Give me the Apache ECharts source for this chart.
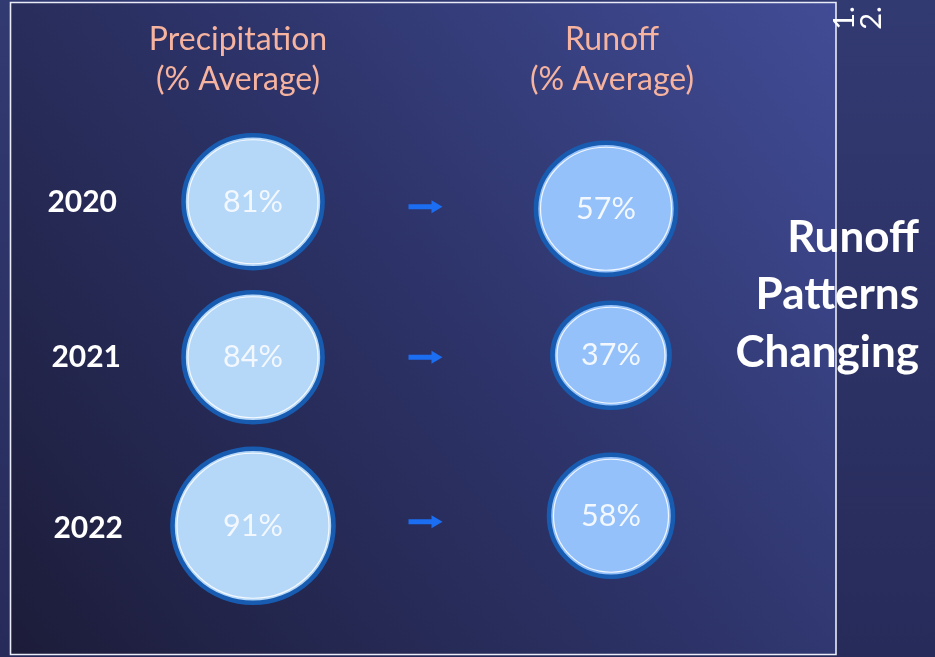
<!DOCTYPE html>
<html>
<head>
<meta charset="utf-8">
<script src="https://cdn.jsdelivr.net/npm/echarts@6/dist/echarts.min.js"></script>
<style>
  html, body { margin: 0; padding: 0; width: 935px; height: 657px; overflow: hidden; }
  #chart { width: 935px; height: 657px; }
</style>
</head>
<body>
<div id="chart"></div>
<script>
// ---- data ----
const years = ['2020', '2021', '2022'];
const groups = ['Precipitation', 'Runoff'];
const precipitation = [81, 84, 91];   // % of average
const runoff = [57, 37, 58];          // % of average
const headerLines = ['Precipitation\n(% Average)', 'Runoff\n(% Average)'];
const sideTitle = 'Runoff\nPatterns\nChanging';

// ---- layout / style ----
const FONT = 'Lato, "Open Sans", "Noto Sans", sans-serif';
const precipSize = [[139, 133], [139, 130], [161, 154]];
const runoffSize = [[140, 132], [117, 105], [124, 122]];
const precipOffset = [[0, -1], [0, -3], [0, 8]];
const runoffOffset = [[-4, 6], [1, -5], [1, -2]];
const arrowShift = [[-6, 4], [-6, -3], [-6, 4]];
// per-year nudges of the row labels: [top, right, bottom, left] padding
const yearPad = [[0, 6, 0, 0], [0, 2, 6, 0], [21, 0, 0, 0]];

function bubbleData(values, sizes, offsets, col, inset) {
  return values.map((v, i) => ({
    value: [col, i, v],
    symbolSize: [sizes[i][0] - inset, sizes[i][1] - inset],
    symbolOffset: offsets[i]
  }));
}

function bubbleSeries(values, sizes, offsets, col, fill) {
  return [
    {
      type: 'scatter',
      symbol: 'circle',
      z: 3,
      data: bubbleData(values, sizes, offsets, col, 0),
      itemStyle: { color: fill, borderColor: '#185cb2', borderWidth: 4.5, opacity: 1 },
      label: {
        show: true,
        position: 'inside',
        formatter: p => p.value[2] + '%',
        color: '#f3f8ff',
        fontSize: 30.5,
        fontFamily: FONT
      },
      emphasis: { disabled: true },
      silent: true
    },
    {
      type: 'scatter',
      symbol: 'circle',
      z: 4,
      data: bubbleData(values, sizes, offsets, col, 9),
      itemStyle: { color: 'rgba(0,0,0,0)', borderColor: 'rgba(255,255,255,0.85)', borderWidth: 1.2, opacity: 1 },
      label: { show: false },
      emphasis: { disabled: true },
      silent: true
    }
  ];
}

const yearRich = {};
years.forEach((y, i) => {
  yearRich['y' + i] = {
    color: '#ffffff',
    fontWeight: 'bold',
    fontSize: 30,
    fontFamily: FONT,
    padding: yearPad[i]
  };
});

const chart = echarts.init(document.getElementById('chart'), null, { renderer: 'canvas' });

const option = {
  animation: false,
  backgroundColor: {
    type: 'linear', x: 0, y: 0, x2: 0, y2: 1,
    colorStops: [{ offset: 0, color: '#323a72' }, { offset: 1, color: '#272b5a' }]
  },
  grid: { left: 74.5, width: 714, top: 124, height: 472.5 },
  xAxis: {
    type: 'category',
    position: 'top',
    data: [
      { value: groups[0], textStyle: { padding: [0, 30, 0, 0] } },
      { value: groups[1], textStyle: { padding: [0, 0, 0, 4] } }
    ],
    axisLine: { show: false },
    axisTick: { show: false },
    splitLine: { show: false },
    axisLabel: {
      formatter: (v, i) => headerLines[i],
      color: '#f6b39f',
      fontSize: 32,
      lineHeight: 40,
      fontFamily: FONT,
      margin: 24
    }
  },
  yAxis: {
    type: 'category',
    inverse: true,
    data: years,
    axisLine: { show: false },
    axisTick: { show: false },
    splitLine: { show: false },
    axisLabel: {
      margin: -48.5,
      formatter: (v, i) => '{y' + i + '|' + v + '}',
      rich: yearRich
    }
  },
  graphic: [
    {
      type: 'rect',
      z: 0,
      silent: true,
      shape: { x: 10.5, y: 2.5, width: 825.5, height: 652 },
      style: {
        fill: {
          type: 'linear', x: 1, y: 0, x2: 0, y2: 1,
          colorStops: [
            { offset: 0, color: '#414c96' },
            { offset: 0.5, color: '#2c3266' },
            { offset: 1, color: '#1c1c39' }
          ]
        },
        stroke: '#e9ebf6',
        lineWidth: 1.6
      }
    },
    {
      type: 'text',
      z: 10,
      silent: true,
      x: 919, y: 295,
      style: {
        text: sideTitle,
        align: 'right',
        verticalAlign: 'middle',
        fill: '#ffffff',
        font: 'bold 44px ' + FONT,
        lineHeight: 57.5
      }
    },
    {
      type: 'text',
      z: 10,
      silent: true,
      x: 845, y: 18, rotation: Math.PI / 2,
      style: { text: '1.', align: 'center', verticalAlign: 'middle', fill: '#ffffff', font: '29px ' + FONT }
    },
    {
      type: 'text',
      z: 10,
      silent: true,
      x: 872, y: 18, rotation: Math.PI / 2,
      style: { text: '2.', align: 'center', verticalAlign: 'middle', fill: '#ffffff', font: '29px ' + FONT }
    }
  ],
  series: [
    ...bubbleSeries(precipitation, precipSize, precipOffset, 0, '#b5d7f8'),
    ...bubbleSeries(runoff, runoffSize, runoffOffset, 1, '#95c1fa'),
    {
      // arrows linking each year's precipitation to its runoff
      type: 'custom',
      z: 5,
      silent: true,
      data: years.map((y, i) => [0, i]),
      renderItem: (params, api) => {
        const i = api.value(1);
        const a = api.coord([0, i]);
        const b = api.coord([1, i]);
        const cx = (a[0] + b[0]) / 2 + arrowShift[i][0];
        const cy = a[1] + arrowShift[i][1];
        return {
          type: 'polygon',
          shape: {
            points: [
              [cx - 17, cy - 2.5], [cx + 6, cy - 2.5], [cx + 6, cy - 6.5],
              [cx + 17, cy], [cx + 6, cy + 6.5], [cx + 6, cy + 2.5], [cx - 17, cy + 2.5]
            ]
          },
          style: { fill: '#1b6ef2' }
        };
      }
    }
  ]
};

chart.setOption(option);
</script>
</body>
</html>
